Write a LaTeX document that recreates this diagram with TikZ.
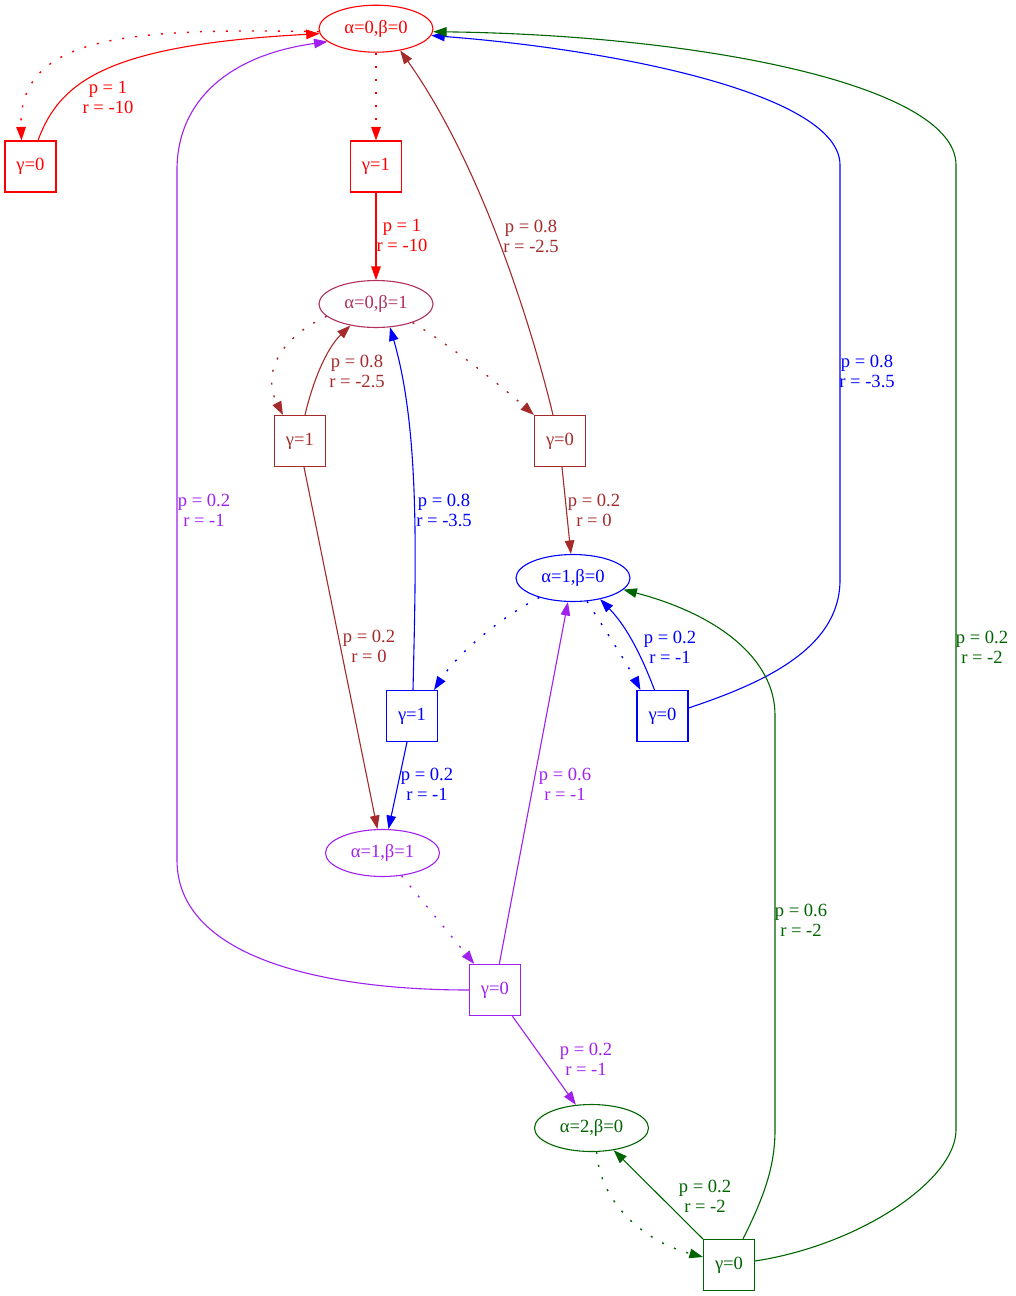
\documentclass[tikz,border=0pt]{standalone}
\usepackage{fontspec}
\setmainfont{Liberation Serif}
\usetikzlibrary{shapes.geometric,arrows.meta}
\definecolor{gvred}{HTML}{FF0000}
\definecolor{gvbrown}{HTML}{A52A2A}
\definecolor{gvmaroon}{HTML}{B03060}
\definecolor{gvblue}{HTML}{0000FF}
\definecolor{gvpurple}{HTML}{A020F0}
\definecolor{gvgreen}{HTML}{006400}
\begin{document}
\begin{tikzpicture}[x=1pt,y=-1pt,
  font=\fontsize{18.6}{20}\selectfont,
  stnode/.style={ellipse,draw,line width=1.1pt,minimum width=114pt,minimum height=47pt,inner sep=0pt},
  act/.style={rectangle,draw,line width=1.1pt,minimum size=51pt,inner sep=0pt},
  lab/.style={align=center,inner sep=0pt},
  conn/.style={line width=1.1pt,-{Triangle[length=13.5pt,width=9.5pt]}},
  dconn/.style={conn,line width=1.4pt,dash pattern=on 2pt off 11pt},
]
\useasboundingbox (0,0) rectangle (1015,1296);

% nodes
\node[stnode,gvred] (A00) at (376,28.7) {α=0,β=0};
\node[act,gvred] (G00a) at (30.5,166.5) {γ=0};
\node[act,gvred] (G00b) at (376,166.5) {γ=1};
\node[stnode,gvmaroon] (A01) at (376,304) {α=0,β=1};
\node[act,gvbrown] (G01b) at (300,441) {γ=1};
\node[act,gvbrown] (G01a) at (560,441) {γ=0};
\node[stnode,gvblue] (A10) at (573,578) {α=1,β=0};
\node[act,gvblue] (G10b) at (412,716) {γ=1};
\node[act,gvblue] (G10a) at (662.5,716) {γ=0};
\node[stnode,gvpurple] (A11) at (382.5,853) {α=1,β=1};
\node[act,gvpurple] (G11a) at (494.8,990) {γ=0};
\node[stnode,gvgreen] (A20) at (591.5,1128) {α=2,β=0};
\node[act,gvgreen] (G20a) at (729,1265) {γ=0};

% labels
\node[lab,gvred] (L1) at (108,97) {p = 1\\r = -10};
\node[lab,gvred] (L2) at (402,235) {p = 1\\r = -10};
\node[lab,gvbrown] (L3) at (531,236) {p = 0.8\\r = -2.5};
\node[lab,gvbrown] (L4) at (357,371.5) {p = 0.8\\r = -2.5};
\node[lab,gvblue] (L5) at (444,510) {p = 0.8\\r = -3.5};
\node[lab,gvbrown] (L6) at (594,510) {p = 0.2\\r = 0};
\node[lab,gvbrown] (L7) at (369,646) {p = 0.2\\r = 0};
\node[lab,gvblue] (L8) at (670,647) {p = 0.2\\r = -1};
\node[lab,gvblue] (L9) at (427,784.5) {p = 0.2\\r = -1};
\node[lab,gvpurple] (L10) at (565,784.5) {p = 0.6\\r = -1};
\node[lab,gvpurple] (L11) at (204,510) {p = 0.2\\r = -1};
\node[lab,gvpurple] (L12) at (586,1059) {p = 0.2\\r = -1};
\node[lab,gvgreen] (L13) at (705,1196) {p = 0.2\\r = -2};
\node[lab,gvgreen] (L14) at (801,920) {p = 0.6\\r = -2};
\node[lab,gvgreen] (L15) at (982,647) {p = 0.2\\r = -2};
\node[lab,gvblue] (L16) at (867,371) {p = 0.8\\r = -3.5};

% red
\draw[dconn,gvred] (A00.183) .. controls (130,28) and (18,35) .. ([xshift=-9pt]G00a.north);
\draw[conn,gvred] ([xshift=7.5pt]G00a.north) .. controls (60,80) and (110,45) .. (A00.185);
\draw[dconn,gvred] (A00.south) -- (G00b.north);
\draw[conn,gvred] (G00b.south) -- (A01.north);

% brown
\draw[dconn,gvbrown] (A01.194) .. controls (285,335) and (260,370) .. ([xshift=-17pt]G01b.north);
\draw[conn,gvbrown] ([xshift=5pt]G01b.north) .. controls (312,385) and (325,350) .. (A01.220);
\draw[dconn,gvbrown] (A01.-27) .. controls (450,345) and (500,385) .. (G01a.north west);
\draw[conn,gvbrown] ([xshift=-7pt]G01a.north) .. controls (535,340) and (485,170) .. (A00.-42);
\draw[conn,gvbrown] ([xshift=2pt]G01a.south) -- (A10.95);
\draw[conn,gvbrown] ([xshift=4pt]G01b.south) -- (A11.102);

% blue
\draw[dconn,gvblue] (A10.210) .. controls (505,615) and (460,650) .. ([xshift=-4pt]G10b.north east);
\draw[conn,gvblue] ([xshift=1pt]G10b.north) .. controls (416,560) and (420,430) .. (A01.-59);
\draw[conn,gvblue] ([xshift=-5pt]G10b.south) -- (A11.76);
\draw[dconn,gvblue] (A10.-59) .. controls (605,630) and (625,660) .. ([xshift=4pt]G10a.north west);
\draw[conn,gvblue] ([xshift=-8pt]G10a.north) .. controls (645,665) and (630,630) .. (A10.-38);
\draw[conn,gvblue] ([yshift=8pt]G10a.east) .. controls (760,684) and (840,650) .. (840,580) -- (840,165) .. controls (840,95) and (620,50) .. (A00.-7);

% purple
\draw[conn,gvpurple] ([xshift=4.5pt]G11a.north) -- (A10.-102);
\draw[dconn,gvpurple] (A11.-50) -- ([xshift=5.5pt]G11a.north west);
\draw[conn,gvpurple] ([xshift=17.5pt]G11a.south) -- (A20.124);
\draw[conn,gvpurple] (G11a.west) .. controls (330,990) and (177,960) .. (177,860) -- (177,170) .. controls (177,100) and (230,55) .. (A00.195);

% green
\draw[dconn,gvgreen] (A20.-78) .. controls (600,1200) and (640,1240) .. ([yshift=8pt]G20a.west);
\draw[conn,gvgreen] (G20a.north west) -- (A20.-45);
\draw[conn,gvgreen] ([xshift=14pt]G20a.north) .. controls (765,1195) and (775,1165) .. (775,1130) -- (775,715) .. controls (775,660) and (720,615) .. (A10.-13);
\draw[conn,gvgreen] ([yshift=4pt]G20a.east) .. controls (860,1245) and (956,1180) .. (956,1130) -- (956,165) .. controls (956,85) and (700,35) .. (A00.-3);
\end{tikzpicture}
\end{document}
